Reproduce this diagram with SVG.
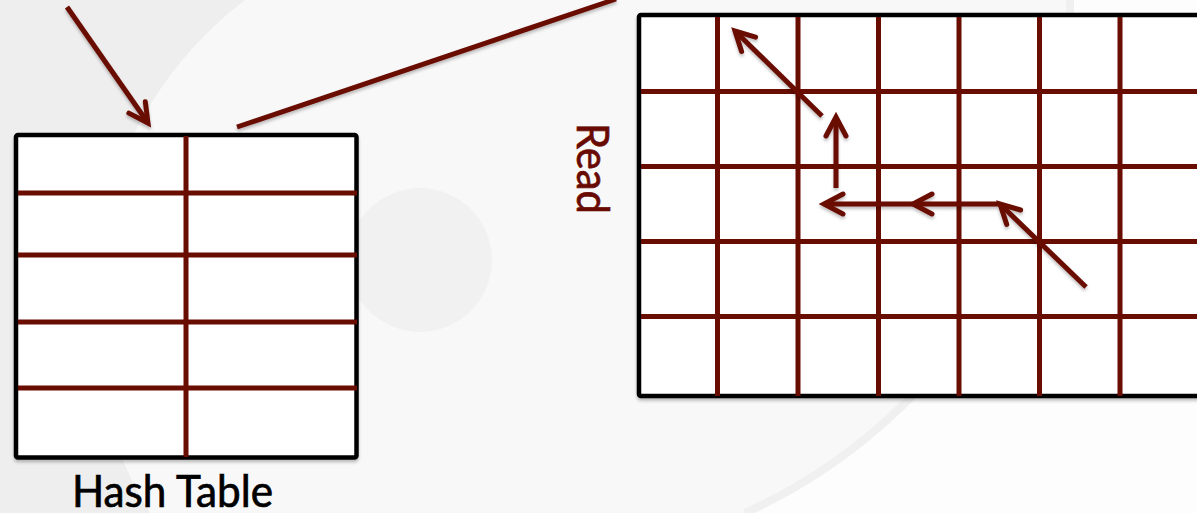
<svg xmlns="http://www.w3.org/2000/svg" width="1197" height="513" viewBox="0 0 1197 513">
  <style>
    .red { stroke: #690a02; stroke-width: 5; fill: none; }
    .blk { stroke: #000; stroke-width: 4.5; fill: #fff; }
    .conn { stroke: #690a02; stroke-width: 5; fill: none; stroke-linecap: butt; }
    .lbl { font-family: Lato, "Liberation Sans", sans-serif; font-size: 44px; stroke-width: 0.7; }
  </style>
  <defs>
    <filter id="sh" x="-10%" y="-10%" width="120%" height="130%">
      <feDropShadow dx="0" dy="2.5" stdDeviation="1.5" flood-color="#000" flood-opacity="0.25"/>
    </filter>
    <marker id="chev" markerUnits="userSpaceOnUse" orient="auto" refX="0" refY="0" markerWidth="30" markerHeight="30" overflow="visible">
      <path d="M-19,-10 L0,0 L-19,10" fill="none" stroke="#690a02" stroke-width="5" stroke-linecap="round" stroke-linejoin="miter"/>
    </marker>
  </defs>

  <!-- background watermark -->
  <rect x="0" y="0" width="1197" height="513" fill="#f8f8f8"/>
  <path d="M1197,0 L1070,0 A554,554 0 0,1 745,513 L1197,513 Z" fill="#fdfdfd"/>
  <path d="M1070,0 A554,554 0 0,1 745,513" fill="none" stroke="#f0f0f0" stroke-width="8"/>
  <path d="M0,0 L245,0 A389,389 0 0,0 150,513 L0,513 Z" fill="#eeeeee"/>
  <circle cx="420" cy="260" r="72" fill="#f1f1f1"/>

  <g id="hash-table" filter="url(#sh)">
    <rect class="blk" x="16" y="135" width="340.5" height="322.5" rx="2"/>
    <line class="red" x1="186" y1="136" x2="186" y2="457"/>
    <line class="red" x1="18" y1="193" x2="357" y2="193"/>
    <line class="red" x1="18" y1="255" x2="357" y2="255"/>
    <line class="red" x1="18" y1="322" x2="357" y2="322"/>
    <line class="red" x1="18" y1="388" x2="357" y2="388"/>
  </g>

  <g id="label-hash">
    <text class="lbl" x="72" y="507" fill="#000" stroke="#000" textLength="201" lengthAdjust="spacingAndGlyphs">Hash Table</text>
  </g>

  <g id="grid" filter="url(#sh)">
    <rect class="blk" x="639" y="15" width="600" height="381" rx="2"/>
    <line class="red" x1="717.5" y1="17" x2="717.5" y2="396"/>
    <line class="red" x1="798" y1="17" x2="798" y2="396"/>
    <line class="red" x1="878.5" y1="17" x2="878.5" y2="396"/>
    <line class="red" x1="959" y1="17" x2="959" y2="396"/>
    <line class="red" x1="1039.5" y1="17" x2="1039.5" y2="396"/>
    <line class="red" x1="1120" y1="17" x2="1120" y2="396"/>
    <line class="red" x1="641" y1="91.5" x2="1197" y2="91.5"/>
    <line class="red" x1="641" y1="166.5" x2="1197" y2="166.5"/>
    <line class="red" x1="641" y1="241.5" x2="1197" y2="241.5"/>
    <line class="red" x1="641" y1="316.5" x2="1197" y2="316.5"/>
  </g>

  <g id="label-read">
    <text class="lbl" transform="translate(577,123) rotate(90)" x="0" y="0" fill="#690a02" stroke="#690a02" textLength="91" lengthAdjust="spacingAndGlyphs">Read</text>
  </g>

  <g id="connectors" filter="url(#sh)">
    <line class="conn" x1="67" y1="7" x2="148" y2="123" marker-end="url(#chev)"/>
    <line class="conn" x1="237" y1="127" x2="616" y2="-1"/>
    <line class="conn" x1="1086" y1="287" x2="1000" y2="204" marker-end="url(#chev)"/>
    <path class="conn" d="M999,204 L913,204 L824,204" marker-mid="url(#chev)" marker-end="url(#chev)"/>
    <line class="conn" x1="836" y1="188" x2="836" y2="117" marker-end="url(#chev)"/>
    <line class="conn" x1="822" y1="116" x2="735" y2="31" marker-end="url(#chev)"/>
  </g>
</svg>
